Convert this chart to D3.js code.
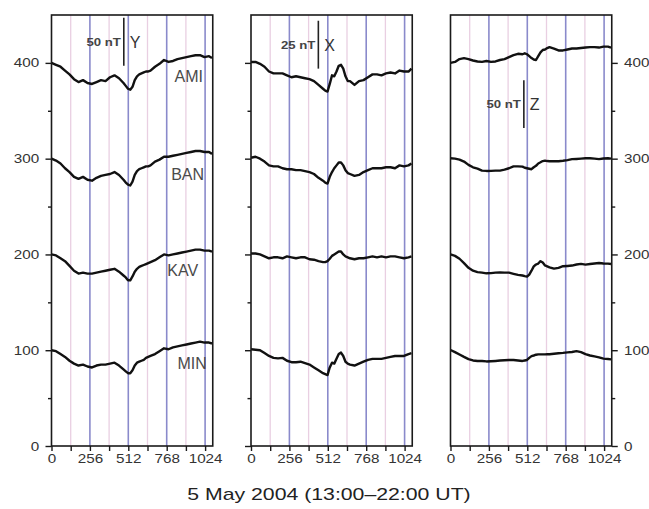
<!DOCTYPE html>
<html>
<head>
<meta charset="utf-8">
<script src="https://cdn.jsdelivr.net/npm/d3@7"></script>
<style>
  html, body { margin: 0; padding: 0; background: #fff; }
  svg { display: block; }
  text { font-family: "Liberation Sans", Arial, Helvetica, sans-serif; }
</style>
</head>
<body>
<svg id="chart" width="649" height="509"></svg>
<script>
// Sample index (30 s samples, 13:00-22:00 UT), denser around the 512 event
const t = [0,30,60,90,120,150,180,210,240,270,300,330,360,390,420,450,480,
           495,510,525,540,555,570,585,600,615,630,645,660,
           690,720,750,780,810,840,870,900,930,960,990,1020,1050,1070];

const stations = ["AMI", "BAN", "KAV", "MIN"];
const components = ["Y", "X", "Z"];

// Y component (offset traces)
const yAMI = [400,398,396,392,388,383,380,382,379,378,380,382,381,385,387,384,379,
              376,373,372,375,382,386,388,389,390,391,391,392,
              396,399,403,401,402,404,405,406,407,408,408,406,407,405];
const yBAN = [300,298,295,290,286,281,279,281,278,277,280,282,283,284,286,283,278,
              275,273,272,276,283,287,289,290,291,292,292,293,
              297,299,302,302,303,304,305,306,307,308,308,307,307,305];
const yKAV = [200,199,196,193,188,183,180,181,180,180,181,182,183,184,185,182,178,
              176,173,173,177,182,185,187,188,189,190,191,192,
              194,197,200,199,200,201,202,203,204,205,205,204,204,203];
const yMIN = [100,99,96,93,89,86,84,85,83,82,84,85,85,86,87,84,80,
              78,76,76,79,84,87,88,89,90,92,93,94,
              96,99,102,101,103,104,105,106,107,108,109,108,108,107];

// X component
const xAMI = [401,401,399,396,391,389,389,389,387,385,386,385,384,383,381,377,373,
              371,370,378,387,386,391,397,398,394,386,381,381,
              377,381,382,385,388,388,387,389,390,389,392,391,391,394];
const xBAN = [301,302,300,297,293,292,292,290,289,289,288,288,287,286,284,280,277,
              275,274,281,286,290,293,296,296,293,288,285,284,
              282,283,286,288,290,290,290,291,291,290,293,292,293,295];
const xKAV = [201,201,200,198,196,197,197,196,198,197,196,197,197,195,194.5,193,192,
              192,193,195.5,198.5,200,201.5,203,203,200,198,197,196,
              195,196,196,197,198,197,198,197,198,198,197,196,197,198];
const xMIN = [101,100.5,100,97,94,92,91.5,92,89,87.5,87.5,88,86.5,85,82,79,76,
              75,74,82,87,86,91,96,97.5,94,88,86,85,
              84,86,88,90,91,91,91,92,93,94,94,94,96,97];

// Z component
const zAMI = [400,401,404,405,404,402.5,401.5,401,402,401,401.5,403,404,406,408,409.5,409,
              410,409,407,405,403.5,403,407,411,413.5,414,415.5,416.5,
              415,413,413,414,415,415,415.5,416,416.5,416.5,416,417,417,416];
const zBAN = [300.4,300,299,297,293.5,291,289.5,287.5,287.2,287.3,287.5,287.5,288.5,290,292,292,291.7,
              290.5,290,289.5,289,291,292.5,295,296.2,297.5,298,297.5,297.3,
              297.3,297.3,297.8,298.5,299.5,299.7,300,300.4,300.4,300,299.5,300.2,300.4,300];
const zKAV = [200,198.5,195.5,191,186,183,181.5,181,180.3,180.5,181,181.3,181,181,179.8,178.7,178,
              177.3,176.8,179,183,187.5,189.5,190.5,193,191.5,188.5,187.5,186.5,
              185.2,186,187.7,188,188.4,189.5,190.2,189.4,190,190.5,191,190.5,190.4,190];
const zMIN = [100.2,98,95.5,93,90.7,89.3,88.8,88.8,88.3,88.5,88.8,89.2,89.6,89.8,89.8,89.3,88.8,
              89.3,89.8,92,93.8,94.5,95.3,95.7,95.7,95.7,95.7,95.8,95.8,
              96.3,96.8,97.2,97.8,98.2,99,98,96,94.5,93.5,92.6,91.2,90.8,90.5];

const seriesByComponent = [
  [yAMI, yBAN, yKAV, yMIN],
  [xAMI, xBAN, xKAV, xMIN],
  [zAMI, zBAN, zKAV, zMIN]
];

// Scale bars: nT shown and plot units per nT in each panel
const scaleBarNT = [50, 25, 50];
const unitsPerNT = [1, 2, 1];

// Axis ticks
const xMajorTicks = [0, 256, 512, 768, 1024];
const xHalfTicks = [128, 384, 640, 896];
const yMajorTicks = [0, 100, 200, 300, 400];
const yMinorTicks = [50, 150, 250, 350];
const title = "5 May 2004 (13:00\u201322:00 UT)";

// ---------------------------------------------------------------
const svg = d3.select("#chart");
const panelLeft = [51.5, 251, 450.5];
const xDomainMax = 1075;
const panelW = 161.25;

const yScale = d3.scaleLinear().domain([0, 450]).range([446, 15]);
const plotTop = yScale(450), plotBottom = yScale(0);

const stretch = 1.22;   // tick labels are set slightly wide

const line = d3.line();

components.forEach((comp, p) => {
  const xs = d3.scaleLinear().domain([0, xDomainMax]).range([0, panelW]);
  const g = svg.append("g").attr("transform", `translate(${panelLeft[p]},0)`);

  // half-hour guide lines (pink) and 256-sample guide lines (blue)
  g.selectAll("line.half").data(xHalfTicks).join("line")
    .attr("x1", d => xs(d)).attr("x2", d => xs(d))
    .attr("y1", plotTop).attr("y2", plotBottom)
    .attr("stroke", "#e9cfe2").attr("stroke-width", 1.3);
  g.selectAll("line.major").data(xMajorTicks.filter(d => d > 0)).join("line")
    .attr("x1", d => xs(d)).attr("x2", d => xs(d))
    .attr("y1", plotTop).attr("y2", plotBottom)
    .attr("stroke", "#8a8acb").attr("stroke-width", 1.6);

  // traces
  seriesByComponent[p].forEach(vals => {
    g.append("path")
      .attr("d", line(vals.map((v, i) => [xs(t[i]), yScale(v)])))
      .attr("fill", "none")
      .attr("stroke", "#111")
      .attr("stroke-width", 2.4)
      .attr("stroke-linejoin", "round");
  });

  // frame
  g.append("rect")
    .attr("x", 0).attr("y", plotTop)
    .attr("width", panelW).attr("height", plotBottom - plotTop)
    .attr("fill", "none").attr("stroke", "#1a1a1a").attr("stroke-width", 1.6);

  // bottom axis
  const xAxis = g.append("g").attr("transform", `translate(0,${plotBottom})`)
    .call(d3.axisBottom(xs)
      .tickValues([...xMajorTicks, ...xHalfTicks].sort((a, b) => a - b))
      .tickSize(5).tickPadding(3)
      .tickFormat(d => xMajorTicks.includes(d) ? d : ""));
  xAxis.select(".domain").remove();
  xAxis.selectAll(".tick line").attr("stroke", "#1a1a1a").attr("stroke-width", 1.4);
  xAxis.selectAll(".tick text")
    .attr("font-size", 12.5).attr("fill", "#333")
    .attr("transform", `scale(${stretch},1)`);

  // vertical axes
  const right = (p === 2);
  const labelled = (p !== 1);
  const axisGen = right ? d3.axisRight : d3.axisLeft;
  const ax = g.append("g").attr("transform", `translate(${right ? panelW : 0},0)`);
  const major = ax.append("g").call(axisGen(yScale).tickValues(yMajorTicks).tickSize(6)
    .tickFormat(d => labelled ? d : ""));
  const minor = ax.append("g").call(axisGen(yScale).tickValues(yMinorTicks).tickSize(3.5)
    .tickFormat(""));
  [major, minor].forEach(a => {
    a.select(".domain").remove();
    a.selectAll(".tick line").attr("stroke", "#1a1a1a").attr("stroke-width", 1.4);
  });
  major.selectAll(".tick text")
    .attr("font-size", 12.5).attr("fill", "#333")
    .attr("x", right ? 10 : -10)
    .attr("transform", `scale(${stretch},1)`);

  // scale bar with component letter
  const barUnits = scaleBarNT[p] * unitsPerNT[p];
  const barPos = [[482, 397], [449, 394], [489, 332]][p];
  const bx = xs(barPos[0]);
  const yLo = yScale(barPos[1]), yHi = yScale(barPos[1] + barUnits);
  g.append("line")
    .attr("x1", bx).attr("x2", bx).attr("y1", yLo).attr("y2", yHi)
    .attr("stroke", "#222").attr("stroke-width", 1.6);
  const mid = (yLo + yHi) / 2;
  g.append("text")
    .attr("transform", `translate(${bx - 3},${mid + 4}) scale(1.2,1)`)
    .attr("text-anchor", "end")
    .attr("font-size", 11).attr("font-weight", "bold").attr("fill", "#444")
    .text(`${scaleBarNT[p]} nT`);
  g.append("text")
    .attr("transform", `translate(${bx + 6},${mid + 6})`)
    .attr("font-size", 16).attr("fill", "#333")
    .text(comp);

  // station names on the Y panel
  if (p === 0) {
    const labelPos = [[1010, 380], [1017, 278], [977, 177], [1035, 80]];
    stations.forEach((s, i) => {
      g.append("text")
        .attr("x", xs(labelPos[i][0])).attr("y", yScale(labelPos[i][1]))
        .attr("text-anchor", "end")
        .attr("font-size", 16).attr("fill", "#4a4a4a")
        .text(s);
    });
  }
});

// common x title
svg.append("text")
  .attr("transform", `translate(329,500) scale(1.25,1)`)
  .attr("text-anchor", "middle")
  .attr("font-size", 17).attr("fill", "#222")
  .text(title);
</script>
</body>
</html>
